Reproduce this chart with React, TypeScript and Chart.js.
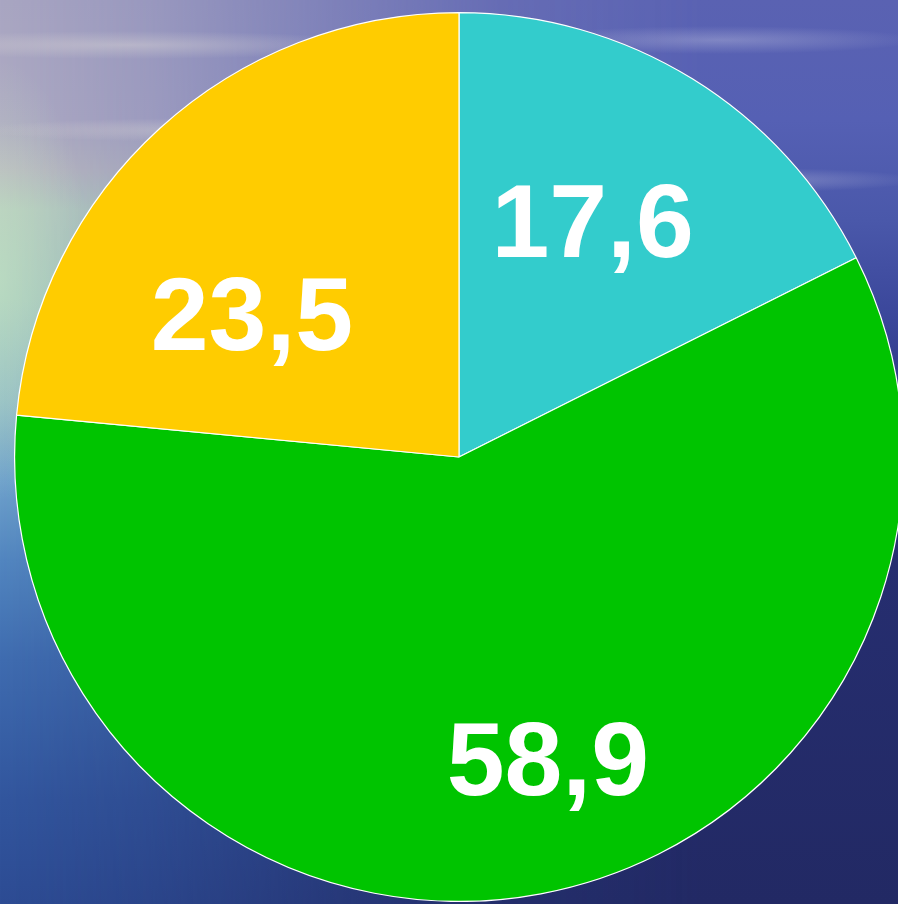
import React, { useEffect, useRef } from "react";
import { Chart, registerables } from "chart.js";

Chart.register(...registerables);

const categories = ["A", "B", "C"];
const values = [17.6, 58.9, 23.5];
const valueLabels = ["17,6", "58,9", "23,5"];
const sliceColors = ["#33CCCC", "#00C400", "#FFCC00"];

// label placement: angle shift (deg) relative to slice middle, radius fraction
const labelPlacement = [
  { shift: -1.6, frac: 0.6 },
  { shift: -5.5, frac: 0.72 },
  { shift: -14, frac: 0.56 },
];

const labelPlugin = {
  id: "sliceLabels",
  afterDatasetsDraw(chart: any) {
    const ctx = chart.ctx;
    const meta = chart.getDatasetMeta(0);
    ctx.save();
    ctx.fillStyle = "#ffffff";
    ctx.font = "bold 104px 'Liberation Sans', Arial, sans-serif";
    ctx.textAlign = "center";
    ctx.textBaseline = "middle";
    meta.data.forEach((arc: any, i: number) => {
      const p = arc.getProps(["x", "y", "startAngle", "endAngle", "outerRadius"], true);
      const mid = (p.startAngle + p.endAngle) / 2 + (labelPlacement[i].shift * Math.PI) / 180;
      const r = p.outerRadius * labelPlacement[i].frac;
      const x = p.x + Math.cos(mid) * r;
      const y = p.y + Math.sin(mid) * r;
      ctx.fillText(valueLabels[i], x, y + 2);
    });
    ctx.restore();
  },
};

const leftSky =
  "linear-gradient(to bottom, #a9a6c2 0px, #aeaac2 120px, #b9b8c0 170px, #b6cbbf 210px, #aacbbf 300px, #92bcc6 400px, #6fa2cc 480px, #5286c0 560px, #3f6cb0 660px, #32569e 800px, #2d4c94 904px)";
const rightSky =
  "linear-gradient(to bottom, #5a62b2 0px, #5560b4 120px, #4a58aa 220px, #3a469a 320px, #2c3680 420px, #262e70 560px, #222964 904px)";

export default function App() {
  const ref = useRef<HTMLCanvasElement>(null);
  useEffect(() => {
    document.body.style.margin = "0";
    document.body.style.overflow = "hidden";
    const chart = new Chart(ref.current!, {
      type: "pie",
      data: {
        labels: categories,
        datasets: [
          {
            data: values,
            backgroundColor: sliceColors,
            borderColor: "#ffffff",
            borderWidth: 1.2,
          },
        ],
      },
      options: {
        animation: false,
        responsive: false,
        maintainAspectRatio: false,
        layout: { padding: 0 },
        plugins: {
          legend: { display: false },
          tooltip: { enabled: false },
        },
      },
      plugins: [labelPlugin],
    });
    return () => chart.destroy();
  }, []);

  const mask = "linear-gradient(to right, rgba(0,0,0,0) 0px, rgba(0,0,0,0.2) 150px, rgba(0,0,0,0.85) 500px, #000 700px)";

  return (
    <div
      style={{
        position: "fixed",
        left: 0,
        top: 0,
        width: 898,
        height: 904,
        overflow: "hidden",
        background: leftSky,
      }}
    >
      <div
        style={{
          position: "absolute",
          inset: 0,
          background: rightSky,
          WebkitMaskImage: mask,
          maskImage: mask,
        } as any}
      />
      <div
        style={{
          position: "absolute",
          inset: 0,
          background: [
            "radial-gradient(ellipse 260px 14px at 130px 45px, rgba(235,230,220,0.35), rgba(235,230,220,0))",
            "radial-gradient(ellipse 220px 12px at 200px 130px, rgba(235,230,220,0.3), rgba(235,230,220,0))",
            "radial-gradient(ellipse 200px 14px at 720px 40px, rgba(220,220,235,0.3), rgba(220,220,235,0))",
            "radial-gradient(ellipse 160px 12px at 760px 180px, rgba(220,220,235,0.3), rgba(220,220,235,0))",
            "radial-gradient(ellipse 90px 220px at 0px 280px, rgba(200,235,195,0.45), rgba(200,235,195,0))",
          ].join(", "),
        }}
      />
      <canvas
        ref={ref}
        width={890}
        height={890}
        style={{ position: "absolute", left: 14, top: 12, width: 890, height: 890 }}
      />
    </div>
  );
}
